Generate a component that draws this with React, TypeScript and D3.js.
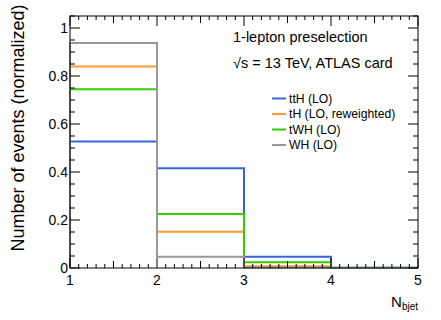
import React from "react";
import * as d3 from "d3";

const width = 441;
const height = 320;
const margin = { left: 70, top: 16, right: 23, bottom: 52 };

const binEdges = [1, 2, 3, 4, 5];
const seriesNames = ["ttH (LO)", "tH (LO, reweighted)", "tWH (LO)", "WH (LO)"];
const seriesColors = ["#3366dd", "#ff9933", "#33cc00", "#999999"];
const ttH = [0.527, 0.416, 0.047, 0.001];
const tH = [0.84, 0.151, 0.007, 0.0];
const tWH = [0.745, 0.225, 0.024, 0.001];
const WH = [0.9375, 0.047, 0.002, 0.0];
const seriesValues = [ttH, tH, tWH, WH];
const yTicks = [0, 0.2, 0.4, 0.6, 0.8, 1];
const xTicks = [1, 2, 3, 4, 5];

const font = "'Liberation Sans', Arial, Helvetica, sans-serif";

export default function App() {
  const x = d3.scaleLinear().domain([1, 5]).range([margin.left, width - margin.right]);
  const y = d3.scaleLinear().domain([0, 1.05]).range([height - margin.bottom, margin.top]);
  const x0 = x.range()[0], x1 = x.range()[1];
  const y0 = y.range()[0], y1 = y.range()[1];

  const stepPath = (vals: number[]) => {
    const pts: [number, number][] = [[x(binEdges[0]), y(0)]];
    vals.forEach((v, i) => {
      pts.push([x(binEdges[i]), y(v)]);
      pts.push([x(binEdges[i + 1]), y(v)]);
    });
    pts.push([x(binEdges[binEdges.length - 1]), y(0)]);
    return d3.line()(pts) as string;
  };

  const yMinor = d3.range(0, 1.0501, 0.05);
  const xMinor = d3.range(1, 5.0001, 0.1);

  return (
    <svg width={width} height={height} style={{ position: "absolute", left: 0, top: 0 }} fontFamily={font}>
      <rect width={width} height={height} fill="white" />
      {seriesValues.map((vals, i) => (
        <path key={i} d={stepPath(vals)} fill="none" stroke={seriesColors[i]} strokeWidth={2} />
      ))}
      {/* frame */}
      <rect x={x0} y={y1} width={x1 - x0} height={y0 - y1} fill="none" stroke="black" strokeWidth={1} />
      {/* y ticks both sides */}
      {yMinor.map((v, i) => {
        const major = Math.abs(Math.round(v * 5) - v * 5) < 1e-6;
        const len = major ? 10 : 5;
        return (
          <g key={i} stroke="black" strokeWidth={1}>
            <line x1={x0} x2={x0 + len} y1={y(v)} y2={y(v)} />
            <line x1={x1} x2={x1 - len} y1={y(v)} y2={y(v)} />
          </g>
        );
      })}
      {xMinor.map((v, i) => {
        const r = Math.round(v * 10) / 10;
        const major = Math.abs(r - Math.round(r)) < 1e-6;
        const mid = Math.abs(r * 2 - Math.round(r * 2)) < 1e-6;
        const len = major ? 10 : mid ? 7 : 4;
        return (
          <g key={i} stroke="black" strokeWidth={1}>
            <line x1={x(r)} x2={x(r)} y1={y0} y2={y0 - len} />
            <line x1={x(r)} x2={x(r)} y1={y1} y2={y1 + len} />
          </g>
        );
      })}
      {yTicks.map((v) => (
        <text key={v} x={x0 - 2} y={y(v)} textAnchor="end" dominantBaseline="central" fontSize={14}>
          {d3.format("~g")(v)}
        </text>
      ))}
      {xTicks.map((v) => (
        <text key={v} x={x(v)} y={y0 + 17} textAnchor="middle" fontSize={14}>
          {v}
        </text>
      ))}
      <text transform={`translate(24,128) rotate(-90)`} textAnchor="middle" fontSize={18}>
        Number of events (normalized)
      </text>
      <text x={x1} y={307} textAnchor="end" fontSize={15}>
        N<tspan fontSize={10} dy={3}>bjet</tspan>
      </text>
      <text x={233} y={42} fontSize={14.5}>1-lepton preselection</text>
      <text x={233} y={68} fontSize={14.5}>√s = 13 TeV, ATLAS card</text>
      {seriesNames.map((name, i) => {
        const ly = 98.5 + i * 15.5;
        return (
          <g key={name}>
            <line x1={272} x2={286} y1={ly} y2={ly} stroke={seriesColors[i]} strokeWidth={2} />
            <text x={289} y={ly} dominantBaseline="central" fontSize={12.2}>{name}</text>
          </g>
        );
      })}
    </svg>
  );
}
